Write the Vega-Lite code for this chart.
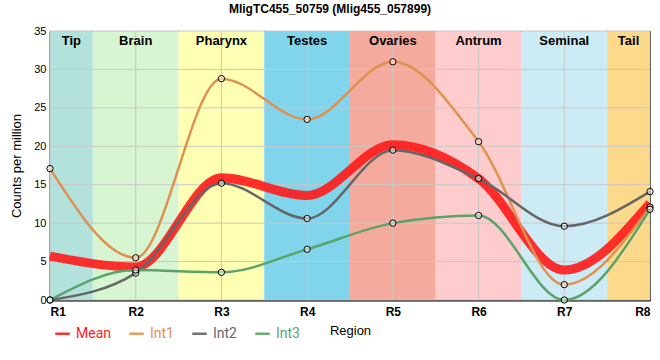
{
  "$schema": "https://vega.github.io/schema/vega-lite/v6.json",
  "width": 600,
  "height": 269,
  "autosize": "none",
  "padding": {"left": 50, "top": 31, "right": 10, "bottom": 60},
  "background": "white",
  "title": {
    "text": "MligTC455_50759 (Mlig455_057899)",
    "font": "Liberation Sans",
    "fontSize": 12,
    "fontWeight": "bold",
    "color": "black",
    "anchor": "middle",
    "dx": -20,
    "offset": 9
  },
  "config": {
    "view": {"stroke": "black", "strokeWidth": 1},
    "axis": {
      "domainColor": "black",
      "domainWidth": 2,
      "grid": false,
      "ticks": false,
      "labelFont": "Liberation Sans",
      "labelColor": "black",
      "titleFont": "Liberation Sans",
      "titleColor": "black",
      "titleFontWeight": "normal",
      "titleFontSize": 13
    }
  },
  "datasets": {
    "bands": [
      {"band": "Tip", "start": 1, "end": 1.5, "mid": 1.25},
      {"band": "Brain", "start": 1.5, "end": 2.5, "mid": 2},
      {"band": "Pharynx", "start": 2.5, "end": 3.5, "mid": 3},
      {"band": "Testes", "start": 3.5, "end": 4.5, "mid": 4},
      {"band": "Ovaries", "start": 4.5, "end": 5.5, "mid": 5},
      {"band": "Antrum", "start": 5.5, "end": 6.5, "mid": 6},
      {"band": "Seminal", "start": 6.5, "end": 7.5, "mid": 7},
      {"band": "Tail", "start": 7.5, "end": 8, "mid": 7.75}
    ],
    "xgrid": [{"r": 1}, {"r": 2}, {"r": 3}, {"r": 4}, {"r": 5}, {"r": 6}, {"r": 7}, {"r": 8}],
    "ygrid": [{"v": 0}, {"v": 5}, {"v": 10}, {"v": 15}, {"v": 20}, {"v": 25}, {"v": 30}, {"v": 35}],
    "series": [
      {"r": 1, "series": "Mean", "value": 5.7},
      {"r": 2, "series": "Mean", "value": 4.3},
      {"r": 3, "series": "Mean", "value": 15.9},
      {"r": 4, "series": "Mean", "value": 13.6},
      {"r": 5, "series": "Mean", "value": 20.2},
      {"r": 6, "series": "Mean", "value": 15.8},
      {"r": 7, "series": "Mean", "value": 3.9},
      {"r": 8, "series": "Mean", "value": 12.6},
      {"r": 1, "series": "Int1", "value": 17.1},
      {"r": 2, "series": "Int1", "value": 5.5},
      {"r": 3, "series": "Int1", "value": 28.8},
      {"r": 4, "series": "Int1", "value": 23.5},
      {"r": 5, "series": "Int1", "value": 31.0},
      {"r": 6, "series": "Int1", "value": 20.6},
      {"r": 7, "series": "Int1", "value": 2.0},
      {"r": 8, "series": "Int1", "value": 12.1},
      {"r": 1, "series": "Int2", "value": 0},
      {"r": 2, "series": "Int2", "value": 3.5},
      {"r": 3, "series": "Int2", "value": 15.2},
      {"r": 4, "series": "Int2", "value": 10.6},
      {"r": 5, "series": "Int2", "value": 19.5},
      {"r": 6, "series": "Int2", "value": 15.8},
      {"r": 7, "series": "Int2", "value": 9.6},
      {"r": 8, "series": "Int2", "value": 14.1},
      {"r": 1, "series": "Int3", "value": 0},
      {"r": 2, "series": "Int3", "value": 3.9},
      {"r": 3, "series": "Int3", "value": 3.6},
      {"r": 4, "series": "Int3", "value": 6.6},
      {"r": 5, "series": "Int3", "value": 10.0},
      {"r": 6, "series": "Int3", "value": 11.0},
      {"r": 7, "series": "Int3", "value": 0},
      {"r": 8, "series": "Int3", "value": 11.8}
    ]
  },
  "layer": [
    {
      "data": {"name": "bands"},
      "mark": {"type": "rect"},
      "encoding": {
        "x": {
          "field": "start", "type": "quantitative",
          "scale": {"domain": [1, 8], "nice": false, "zero": false},
          "axis": {
            "values": [1, 2, 3, 4, 5, 6, 7, 8],
            "labelExpr": "'R' + datum.value",
            "labelFontWeight": "bold",
            "labelFontSize": 12,
            "labelPadding": 6,
            "title": "Region",
            "titleFontSize": 13,
            "titlePadding": 7
          }
        },
        "x2": {"field": "end"},
        "y": {
          "datum": 0, "type": "quantitative",
          "scale": {"domain": [0, 35], "nice": false},
          "axis": {
            "values": [0, 5, 10, 15, 20, 25, 30, 35],
            "tickCount": 8,
            "labelOverlap": false,
            "labelFontSize": 11,
            "labelPadding": 4,
            "title": "Counts per million",
            "titleFontSize": 13,
            "titlePadding": 10
          }
        },
        "y2": {"datum": 35},
        "fill": {
          "field": "band", "type": "nominal",
          "scale": {
            "domain": ["Tip", "Brain", "Pharynx", "Testes", "Ovaries", "Antrum", "Seminal", "Tail"],
            "range": ["#b3e2dd", "#d7f5d0", "#ffffb3", "#80d4ec", "#f4aa9d", "#fecccc", "#cdebf5", "#fdd98c"]
          },
          "legend": null
        }
      }
    },
    {
      "data": {"name": "xgrid"},
      "mark": {"type": "rule", "color": "#c8c8c8", "strokeWidth": 1},
      "encoding": {"x": {"field": "r", "type": "quantitative"}}
    },
    {
      "data": {"name": "ygrid"},
      "mark": {"type": "rule", "color": "#c8c8c8", "strokeWidth": 1},
      "encoding": {
        "y": {
          "field": "v", "type": "quantitative",
          "axis": {
            "values": [0, 5, 10, 15, 20, 25, 30, 35],
            "tickCount": 8,
            "labelOverlap": false,
            "labelFontSize": 11,
            "labelPadding": 4,
            "title": "Counts per million",
            "titleFontSize": 13,
            "titlePadding": 10
          }
        }
      }
    },
    {
      "data": {"name": "bands"},
      "mark": {"type": "text", "baseline": "top", "dy": 4, "font": "Liberation Sans", "fontSize": 13, "fontWeight": "bold", "color": "black"},
      "encoding": {
        "x": {"field": "mid", "type": "quantitative"},
        "y": {"datum": 35, "type": "quantitative"},
        "text": {"field": "band", "type": "nominal"}
      }
    },
    {
      "data": {"name": "series"},
      "transform": [{"filter": "datum.series === 'Mean'"}],
      "mark": {"type": "line", "interpolate": "monotone", "strokeWidth": 9, "opacity": 0.9},
      "encoding": {
        "x": {"field": "r", "type": "quantitative"},
        "y": {"field": "value", "type": "quantitative"},
        "color": {
          "field": "series", "type": "nominal",
          "scale": {"domain": ["Mean", "Int1", "Int2", "Int3"], "range": ["#ff1a1a", "#e0914f", "#666666", "#5aa469"]},
          "legend": {
            "orient": "none",
            "legendX": 4,
            "legendY": 294,
            "direction": "horizontal",
            "title": null,
            "symbolType": "stroke",
            "symbolSize": 210,
            "symbolStrokeWidth": 2.5,
            "labelFont": "Roboto",
            "labelFontSize": 14,
            "labelOffset": 5,
            "labelColor": {"expr": "scale('color', datum.value)"},
            "columnPadding": 13,
            "encode": {
              "symbols": {"update": {"strokeWidth": {"signal": "datum.value === 'Mean' ? 8 : 2.5"}}}
            }
          }
        }
      }
    },
    {
      "data": {"name": "series"},
      "transform": [{"filter": "datum.series !== 'Mean'"}],
      "mark": {"type": "line", "interpolate": "monotone", "strokeWidth": 2.5},
      "encoding": {
        "x": {"field": "r", "type": "quantitative"},
        "y": {"field": "value", "type": "quantitative"},
        "color": {"field": "series", "type": "nominal"}
      }
    },
    {
      "data": {"name": "series"},
      "transform": [{"filter": "datum.series !== 'Mean'"}],
      "mark": {"type": "point", "shape": "circle", "filled": false, "fill": "white", "fillOpacity": 0.5, "stroke": "black", "strokeWidth": 1, "size": 40},
      "encoding": {
        "x": {"field": "r", "type": "quantitative"},
        "y": {"field": "value", "type": "quantitative"}
      }
    }
  ]
}
